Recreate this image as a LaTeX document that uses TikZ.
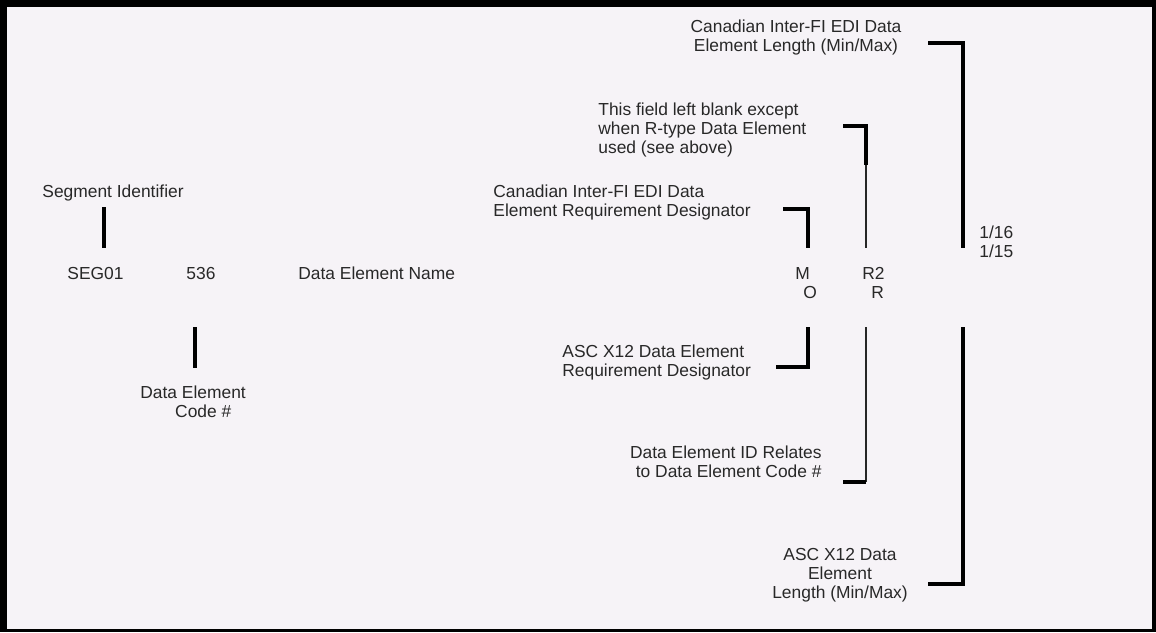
\documentclass[tikz,border=0pt]{standalone}
\usepackage{fontspec}
\setmainfont{Liberation Sans}
\usepackage{tikz}
\definecolor{paper}{RGB}{246,243,247}
\definecolor{ink}{RGB}{40,40,40}
\tikzset{
  lbl/.style={inner sep=0pt, text=ink, align=left},
  val/.style={inner sep=0pt, text=ink, anchor=base west},
  heavy/.style={line width=2pt, draw=black},
  light/.style={line width=0.85pt, draw=black!85},
}

\begin{document}
\begin{tikzpicture}[x=0.5pt, y=-0.5pt, font=\fontsize{8.7}{9.5}\selectfont]
  \fill[black] (0,0) rectangle (1156,632);
  \fill[paper] (7,7) rectangle (1152,629);
  \useasboundingbox (0,0) rectangle (1156,632);

  % the record line
  \node[val] (seg) at (67,279) {SEG01};
  \node[val] (num) at (186,279) {536};
  \node[val] (dename) at (298,279) {Data Element Name};
  \node[val] (mdes) at (795,279) {M};
  \node[val] (odes) at (803,298) {O};
  \node[val] (rtwo) at (862,279) {R2};
  \node[val] (rone) at (871,298) {R};
  \node[lbl, anchor=base west] (lens) at (979,257) {1/16\\1/15};

  % captions (base = last line)
  \node[lbl, anchor=base west] (segid) at (42,197) {Segment Identifier};
  \node[lbl, align=center, anchor=base] (cdlen) at (796,51)
    {Canadian Inter-FI EDI Data\\Element Length (Min/Max)};
  \node[lbl, anchor=base west] (blank) at (598,153)
    {This field left blank except\\when R-type Data Element\\used (see above)};
  \node[lbl, anchor=base west] (cdreq) at (493,216)
    {Canadian Inter-FI EDI Data\\Element Requirement Designator};
  \node[lbl, anchor=base west] (ascreq) at (562,376)
    {ASC X12 Data Element\\Requirement Designator};
  \node[lbl, anchor=base west] (decode) at (140,417)
    {Data Element\\\hspace*{2em}Code \#};
  \node[lbl, align=right, anchor=base east] (deid) at (822,477)
    {Data Element ID Relates\\to Data Element Code \#};
  \node[lbl, align=center, anchor=base] (asclen) at (840,598)
    {ASC X12 Data\\Element\\Length (Min/Max)};

  % leader ends
  \coordinate (segtop) at (104,207);
  \coordinate (segbot) at (104,248);
  \coordinate (numtop) at (195,327);
  \coordinate (numbot) at (195,368);
  \coordinate (cdreqend) at (783,209);
  \coordinate (mup) at (808,248);
  \coordinate (ascreqend) at (776,367);
  \coordinate (mdown) at (808,327);
  \coordinate (blankend) at (843,126);
  \coordinate (rknee) at (866,165);
  \coordinate (rup) at (866,248);
  \coordinate (rdown) at (866,327);
  \coordinate (deidknee) at (866,482);
  \coordinate (deidend) at (843,482);
  \coordinate (cdlenend) at (928,43);
  \coordinate (lenup) at (963,248);
  \coordinate (asclenend) at (928,584);
  \coordinate (lendown) at (963,327);

  % leaders
  \draw[heavy] (segtop) -- (segbot);
  \draw[heavy] (numtop) -- (numbot);
  \draw[heavy] (cdreqend) -| (mup);
  \draw[heavy] (ascreqend) -| (mdown);
  \draw[heavy] (blankend) -| (rknee);
  \draw[light] (rknee) -- (rup);
  \draw[light] (rdown) -- (deidknee);
  \draw[heavy] (deidknee) -- (deidend);
  \draw[heavy] (cdlenend) -| (lenup);
  \draw[heavy] (asclenend) -| (lendown);
\end{tikzpicture}
\end{document}
